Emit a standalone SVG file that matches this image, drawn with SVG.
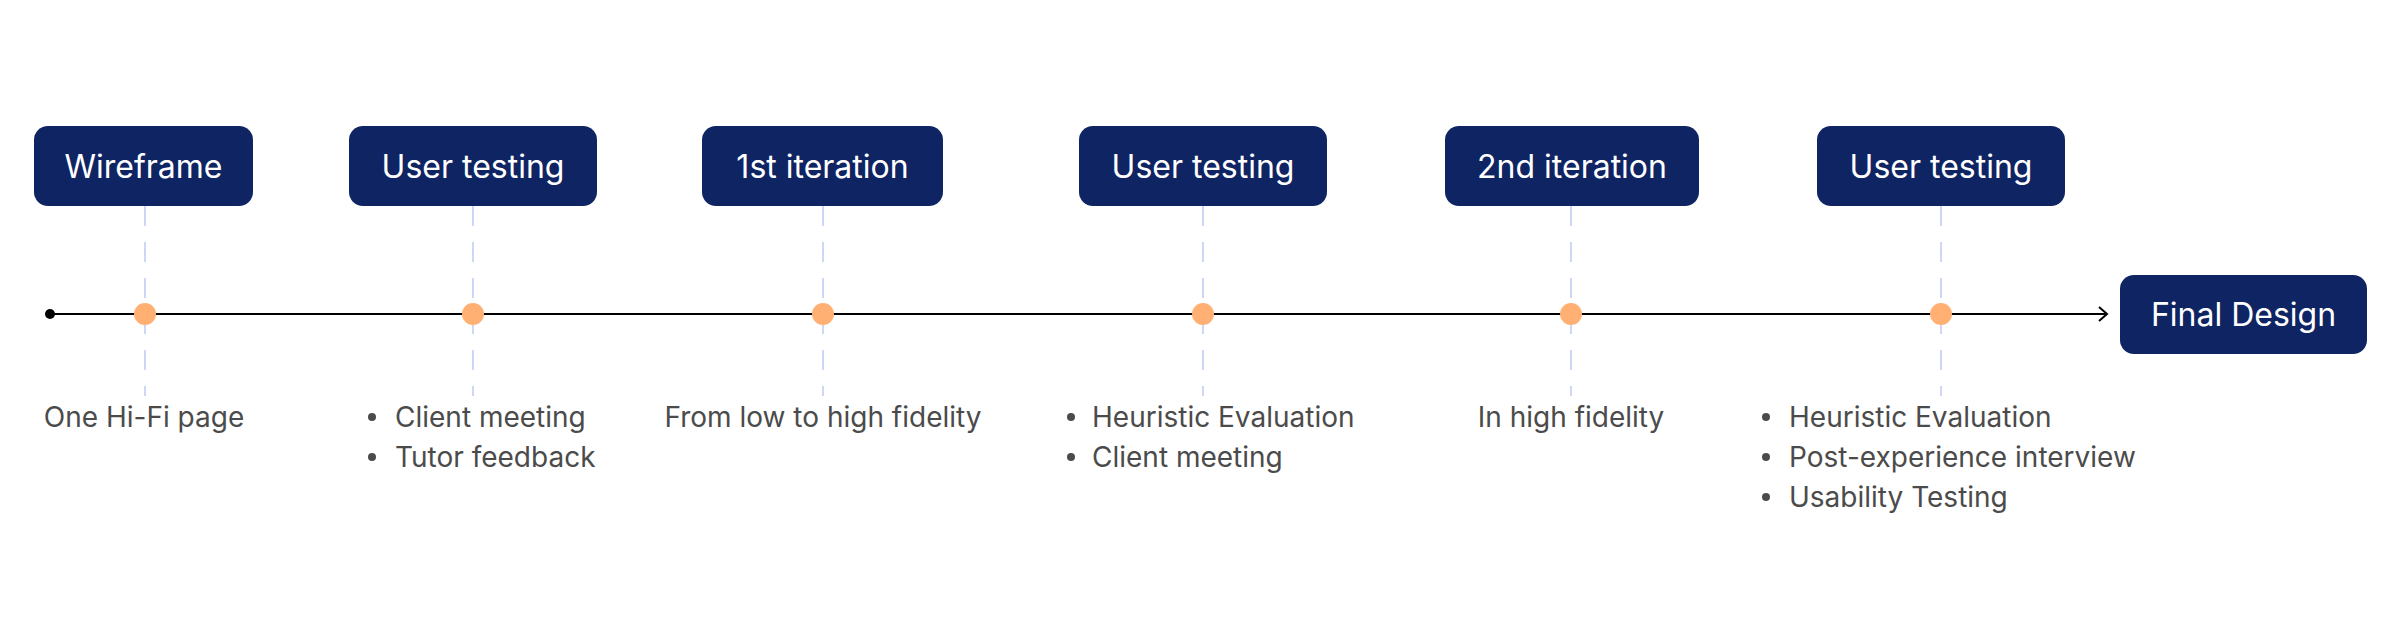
<svg xmlns="http://www.w3.org/2000/svg" width="2400" height="642" viewBox="0 0 2400 642">
<style>
.box{fill:#0f2462;}
.bt{font-family:Inter,"Noto Sans",sans-serif;font-size:32px;fill:#ffffff;text-anchor:middle;}
.lt{font-family:Inter,"Noto Sans",sans-serif;font-size:28px;fill:#4b4b4b;}
.mid{text-anchor:middle;}
.dash{stroke:#cdd6f6;stroke-width:2;stroke-dasharray:20 16;fill:none;}
.dot{fill:#ffb072;}
.bul{fill:#4b4b4b;}
</style>
<defs>
<marker id="arr" markerWidth="14" markerHeight="18" refX="11" refY="9" orient="auto" markerUnits="userSpaceOnUse">
<path d="M3,2 L11,9 L3,16" fill="none" stroke="#000" stroke-width="2"/>
</marker>
</defs>
<rect width="2400" height="642" fill="#ffffff"/>
<g id="connectors">
<line class="dash" x1="145" y1="206" x2="145" y2="396"/>
<line class="dash" x1="473" y1="206" x2="473" y2="396"/>
<line class="dash" x1="823" y1="206" x2="823" y2="396"/>
<line class="dash" x1="1203" y1="206" x2="1203" y2="396"/>
<line class="dash" x1="1571" y1="206" x2="1571" y2="396"/>
<line class="dash" x1="1941" y1="206" x2="1941" y2="396"/>
<line x1="50" y1="314" x2="2107" y2="314" stroke="#000" stroke-width="2" marker-end="url(#arr)"/>
<circle cx="50" cy="314" r="5" fill="#000"/>
<circle class="dot" cx="145" cy="314" r="11"/>
<circle class="dot" cx="473" cy="314" r="11"/>
<circle class="dot" cx="823" cy="314" r="11"/>
<circle class="dot" cx="1203" cy="314" r="11"/>
<circle class="dot" cx="1571" cy="314" r="11"/>
<circle class="dot" cx="1941" cy="314" r="11"/>
</g>
<g id="wireframe">
<rect class="box" x="34" y="126" width="219" height="80" rx="14"/>
<text class="bt" x="143.5" y="178">Wireframe</text>
<text class="lt mid" x="144" y="427">One Hi-Fi page</text>
</g>
<g id="user-testing-1">
<rect class="box" x="349" y="126" width="248" height="80" rx="14"/>
<text class="bt" x="473" y="178">User testing</text>
<circle class="bul" cx="372" cy="417" r="4"/>
<text class="lt" x="395" y="427">Client meeting</text>
<circle class="bul" cx="372" cy="457" r="4"/>
<text class="lt" x="395" y="467">Tutor feedback</text>
</g>
<g id="iteration-1">
<rect class="box" x="702" y="126" width="241" height="80" rx="14"/>
<text class="bt" x="822.5" y="178">1st iteration</text>
<text class="lt mid" x="823" y="427">From low to high fidelity</text>
</g>
<g id="user-testing-2">
<rect class="box" x="1079" y="126" width="248" height="80" rx="14"/>
<text class="bt" x="1203" y="178">User testing</text>
<circle class="bul" cx="1071" cy="417" r="4"/>
<text class="lt" x="1092" y="427">Heuristic Evaluation</text>
<circle class="bul" cx="1071" cy="457" r="4"/>
<text class="lt" x="1092" y="467">Client meeting</text>
</g>
<g id="iteration-2">
<rect class="box" x="1445" y="126" width="254" height="80" rx="14"/>
<text class="bt" x="1572" y="178">2nd iteration</text>
<text class="lt mid" x="1571" y="427">In high fidelity</text>
</g>
<g id="user-testing-3">
<rect class="box" x="1817" y="126" width="248" height="80" rx="14"/>
<text class="bt" x="1941" y="178">User testing</text>
<circle class="bul" cx="1766" cy="417" r="4"/>
<text class="lt" x="1789" y="427">Heuristic Evaluation</text>
<circle class="bul" cx="1766" cy="457" r="4"/>
<text class="lt" x="1789" y="467">Post-experience interview</text>
<circle class="bul" cx="1766" cy="497" r="4"/>
<text class="lt" x="1789" y="507">Usability Testing</text>
</g>
<g id="final-design">
<rect class="box" x="2120" y="275" width="247" height="79" rx="14"/>
<text class="bt" x="2243.5" y="326">Final Design</text>
</g>
</svg>
